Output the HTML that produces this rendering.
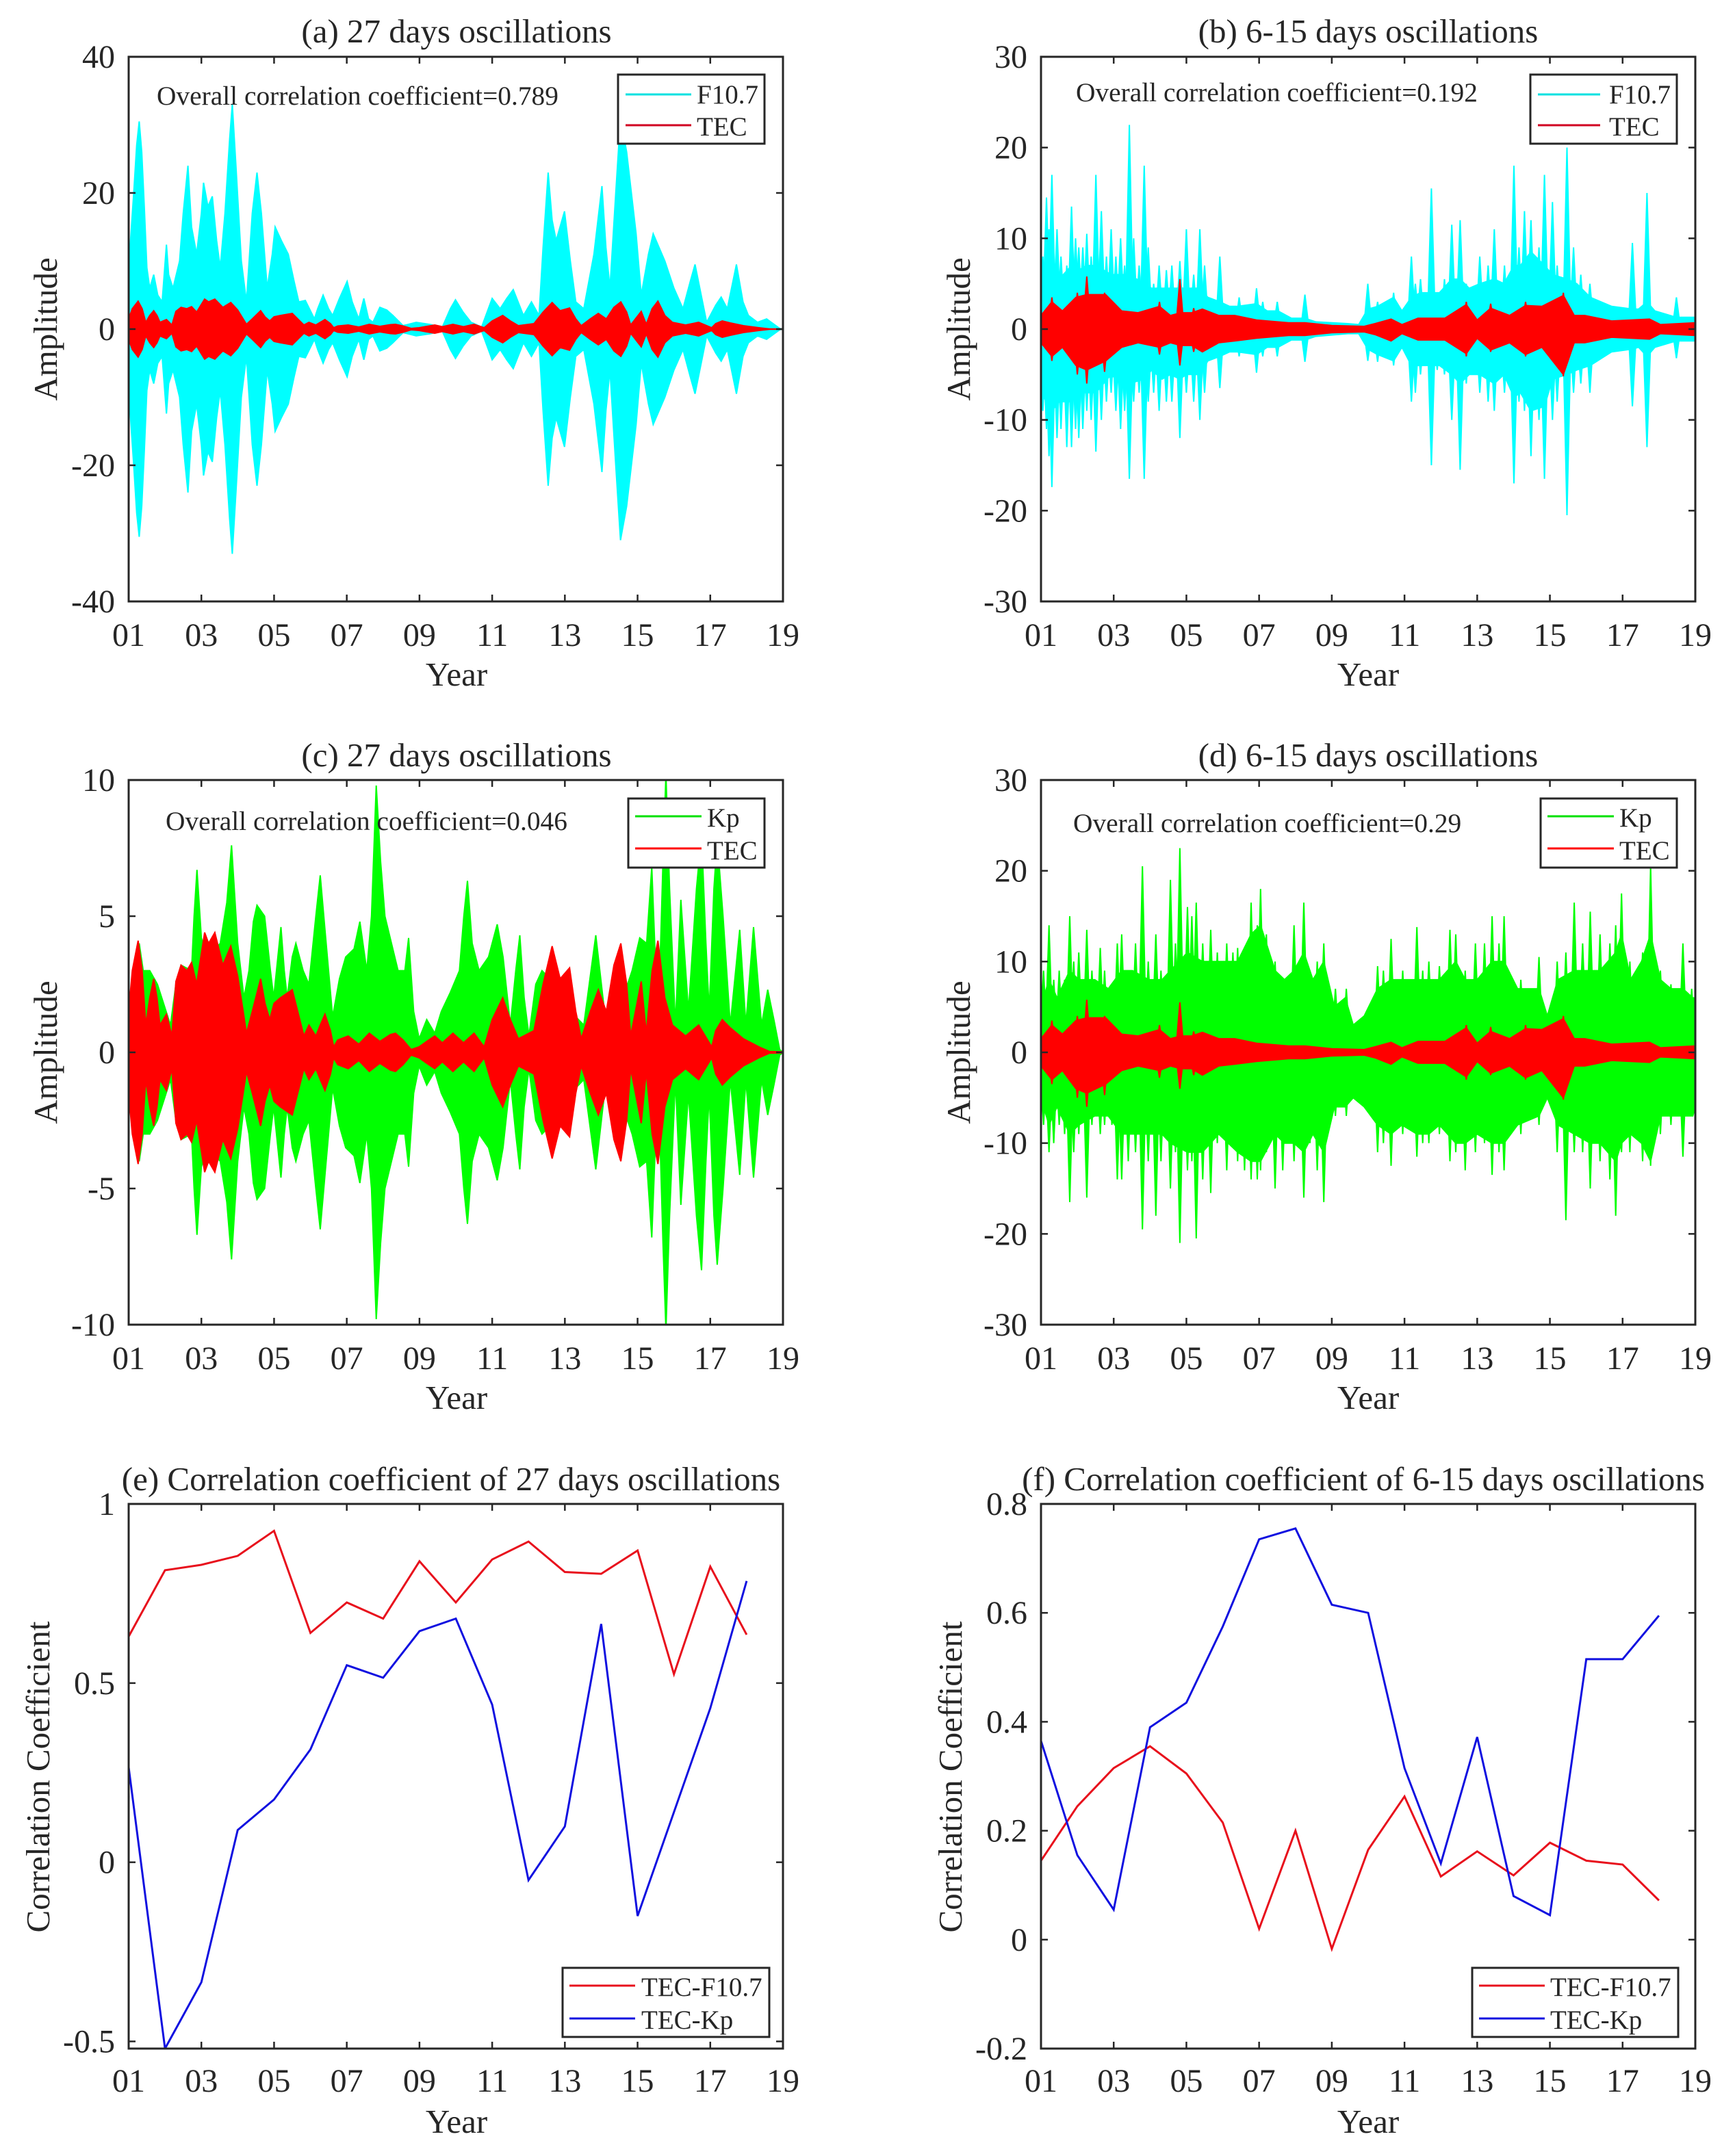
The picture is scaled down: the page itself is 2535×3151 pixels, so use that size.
<!DOCTYPE html>
<html lang="en">
<head>
<meta charset="utf-8">
<title>Oscillation amplitudes and correlation coefficients</title>
<style>
html,body{margin:0;padding:0;background:#fff;}
svg{display:block;}
text{font-family:"Liberation Serif",serif;fill:#262626;}
.title,.axis-label{font-size:49px;}
.tick{font-size:48px;}
.note{font-size:39.4px;}
.leg{font-size:39px;}
.frame{fill:none;stroke:#262626;stroke-width:3;}
.legbox{fill:#fff;stroke:#262626;stroke-width:3;}
</style>
</head>
<body>
<svg id="figure" xmlns="http://www.w3.org/2000/svg" width="2535" height="3151" viewBox="0 0 2535 3151">
<defs>
<clipPath id="clip-a"><rect x="188" y="83" width="956" height="796"/></clipPath>
<clipPath id="clip-b"><rect x="1521" y="83" width="956" height="796"/></clipPath>
<clipPath id="clip-c"><rect x="188" y="1140" width="956" height="796"/></clipPath>
<clipPath id="clip-d"><rect x="1521" y="1140" width="956" height="796"/></clipPath>
<clipPath id="clip-e"><rect x="188" y="2198" width="956" height="796"/></clipPath>
<clipPath id="clip-f"><rect x="1521" y="2198" width="956" height="796"/></clipPath>
</defs>

<!-- Panel a -->
<g>
<text class="title" x="667" y="62" text-anchor="middle">(a) 27 days oscillations</text>
<g id="marks-a" clip-path="url(#clip-a)"></g>
<rect class="frame" x="188" y="83" width="956" height="796"/>
<g id="ticks-a"></g>
<text class="note" x="229" y="153">Overall correlation coefficient=0.789</text>
<text class="axis-label" x="667" y="1002" text-anchor="middle">Year</text>
<text class="axis-label" transform="translate(83 481) rotate(-90)" text-anchor="middle">Amplitude</text>
<g>
<rect class="legbox" x="903" y="109" width="214" height="101"/>
<line x1="914" x2="1010" y1="138" y2="138" stroke="#00e0e0" stroke-width="3"/>
<text class="leg" x="1018" y="151">F10.7</text>
<line x1="914" x2="1010" y1="183" y2="183" stroke="#d00020" stroke-width="3"/>
<text class="leg" x="1018" y="198">TEC</text>
</g>
</g>

<!-- Panel b -->
<g>
<text class="title" x="1999" y="62" text-anchor="middle">(b) 6-15 days oscillations</text>
<g id="marks-b" clip-path="url(#clip-b)"></g>
<rect class="frame" x="1521" y="83" width="956" height="796"/>
<g id="ticks-b"></g>
<text class="note" x="1572" y="148">Overall correlation coefficient=0.192</text>
<text class="axis-label" x="1999" y="1002" text-anchor="middle">Year</text>
<text class="axis-label" transform="translate(1417 481) rotate(-90)" text-anchor="middle">Amplitude</text>
<g>
<rect class="legbox" x="2236" y="109" width="214" height="101"/>
<line x1="2247" x2="2338" y1="138" y2="138" stroke="#00e0e0" stroke-width="3"/>
<text class="leg" x="2351" y="151">F10.7</text>
<line x1="2247" x2="2338" y1="183" y2="183" stroke="#d00020" stroke-width="3"/>
<text class="leg" x="2351" y="198">TEC</text>
</g>
</g>

<!-- Panel c -->
<g>
<text class="title" x="667" y="1120" text-anchor="middle">(c) 27 days oscillations</text>
<g id="marks-c" clip-path="url(#clip-c)"></g>
<rect class="frame" x="188" y="1140" width="956" height="796"/>
<g id="ticks-c"></g>
<text class="note" x="242" y="1213">Overall correlation coefficient=0.046</text>
<text class="axis-label" x="667" y="2059" text-anchor="middle">Year</text>
<text class="axis-label" transform="translate(83 1538) rotate(-90)" text-anchor="middle">Amplitude</text>
<g>
<rect class="legbox" x="918" y="1167" width="199" height="101"/>
<line x1="928" x2="1025" y1="1193" y2="1193" stroke="#00e000" stroke-width="3"/>
<text class="leg" x="1033" y="1208">Kp</text>
<line x1="928" x2="1025" y1="1240" y2="1240" stroke="#ff0000" stroke-width="3"/>
<text class="leg" x="1033" y="1256">TEC</text>
</g>
</g>

<!-- Panel d -->
<g>
<text class="title" x="1999" y="1120" text-anchor="middle">(d) 6-15 days oscillations</text>
<g id="marks-d" clip-path="url(#clip-d)"></g>
<rect class="frame" x="1521" y="1140" width="956" height="796"/>
<g id="ticks-d"></g>
<text class="note" x="1568" y="1216">Overall correlation coefficient=0.29</text>
<text class="axis-label" x="1999" y="2059" text-anchor="middle">Year</text>
<text class="axis-label" transform="translate(1417 1538) rotate(-90)" text-anchor="middle">Amplitude</text>
<g>
<rect class="legbox" x="2251" y="1167" width="199" height="101"/>
<line x1="2261" x2="2358" y1="1193" y2="1193" stroke="#00e000" stroke-width="3"/>
<text class="leg" x="2366" y="1208">Kp</text>
<line x1="2261" x2="2358" y1="1240" y2="1240" stroke="#ff0000" stroke-width="3"/>
<text class="leg" x="2366" y="1256">TEC</text>
</g>
</g>

<!-- Panel e -->
<g>
<text class="title" x="659" y="2178" text-anchor="middle">(e) Correlation coefficient of 27 days oscillations</text>
<g id="marks-e" clip-path="url(#clip-e)"></g>
<rect class="frame" x="188" y="2198" width="956" height="796"/>
<g id="ticks-e"></g>
<text class="axis-label" x="667" y="3117" text-anchor="middle">Year</text>
<text class="axis-label" transform="translate(72 2597) rotate(-90)" text-anchor="middle">Correlation Coefficient</text>
<g>
<rect class="legbox" x="822" y="2876" width="302" height="101"/>
<line x1="832" x2="928" y1="2902" y2="2902" stroke="#e8101c" stroke-width="3"/>
<text class="leg" x="937" y="2917">TEC-F10.7</text>
<line x1="832" x2="928" y1="2950" y2="2950" stroke="#1010e0" stroke-width="3"/>
<text class="leg" x="937" y="2965">TEC-Kp</text>
</g>
</g>

<!-- Panel f -->
<g>
<text class="title" x="1992" y="2178" text-anchor="middle">(f) Correlation coefficient of 6-15 days oscillations</text>
<g id="marks-f" clip-path="url(#clip-f)"></g>
<rect class="frame" x="1521" y="2198" width="956" height="796"/>
<g id="ticks-f"></g>
<text class="axis-label" x="1999" y="3117" text-anchor="middle">Year</text>
<text class="axis-label" transform="translate(1405 2597) rotate(-90)" text-anchor="middle">Correlation Coefficient</text>
<g>
<rect class="legbox" x="2151" y="2876" width="301" height="101"/>
<line x1="2161" x2="2257" y1="2902" y2="2902" stroke="#e8101c" stroke-width="3"/>
<text class="leg" x="2265" y="2917">TEC-F10.7</text>
<line x1="2161" x2="2257" y1="2950" y2="2950" stroke="#1010e0" stroke-width="3"/>
<text class="leg" x="2265" y="2965">TEC-Kp</text>
</g>
</g>
</svg>

<script>
// ---- Shared axis data ----
const xTickValues = [1,3,5,7,9,11,13,15,17,19];
const xTickLabels = ['01','03','05','07','09','11','13','15','17','19'];
const yTicksA = [-40,-20,0,20,40];
const yTicksB = [-30,-20,-10,0,10,20,30];
const yTicksC = [-10,-5,0,5,10];
const yTicksD = [-30,-20,-10,0,10,20,30];
const yTicksE = [-0.5,0,0.5,1];
const yTicksF = [-0.2,0,0.2,0.4,0.6,0.8];

// ---- 27-day envelopes (year, half-amplitude) ----
const f107Time27 = [1,1.05,1.14,1.22,1.29,1.36,1.43,1.5,1.58,1.69,
1.8,1.92,2.04,2.1,2.22,2.4,2.5,2.63,2.73,2.87,
3.0,3.06,3.18,3.30,3.42,3.52,3.65,3.78,3.85,3.95,
4.1,4.24,4.4,4.53,4.65,4.81,4.95,5.03,5.2,5.39,
5.55,5.68,5.86,6.11,6.2,6.35,6.5,6.61,6.8,7.01,
7.15,7.33,7.47,7.6,7.72,7.91,8.1,8.27,8.55,8.91,
9.27,9.63,9.85,9.99,10.2,10.42,10.71,11,11.22,11.4,
11.58,11.86,12.08,12.29,12.4,12.54,12.65,12.76,12.99,13.15,
13.3,13.52,13.8,14.02,14.13,14.24,14.4,14.53,14.7,14.96,
15.1,15.3,15.43,15.75,16,16.25,16.45,16.58,16.75,16.9,
17.15,17.3,17.47,17.72,17.9,18.05,18.3,18.55,18.91,19];
const f107Amp27 = [6,13,20,27,30.5,26,18,9,6,8,
5,4,12.4,8,6,10,17,24,15,11,
17,21.5,18,19.5,13,9,17,28,33,24,
10,4,17,23,17,6,11,15,13,11,
7,4,4.2,1.5,3,5,3,2,4.5,7,
4,1.5,4.5,1.5,1,3.2,2.8,2,0.5,1,
0.7,0.3,3,4.3,2.5,1,0.3,4.5,3,4.5,
5.8,2,4,2,12,23,16,13,17.3,10,
4,3,11,21,12,6,20,31,26,14,
5,11,14,10,6,3,7,9.5,5,1,
3.5,4.7,3,9.5,4,2,1,1.5,0.1,0];

const tecTime27 = [1,1.1,1.26,1.37,1.47,1.58,1.69,1.78,1.86,2.04,
2.19,2.3,2.44,2.6,2.73,2.87,3.09,3.2,3.37,3.59,
3.81,4,4.15,4.24,4.4,4.63,4.75,4.88,5,5.17,
5.5,5.65,5.82,5.96,6.15,6.27,6.4,6.55,6.64,6.75,
7.04,7.33,7.62,7.91,8.2,8.34,8.55,8.77,8.99,9.2,
9.42,9.63,9.92,10.21,10.5,10.78,11,11.29,11.5,11.72,
12.15,12.4,12.65,12.87,13.13,13.3,13.45,13.7,13.92,14.14,
14.35,14.54,14.7,14.81,15.1,15.24,15.4,15.56,15.75,15.96,
16.32,16.68,17.04,17.15,17.33,17.55,17.91,18.34,18.63,19];
const tecAmp27 = [1.5,3,4.1,3,1,2,2.7,2,1,1.4,
0.6,2.6,3.2,3,3.3,2.5,4.4,4,4.4,3.2,
3.9,2.8,1.5,0.7,1.5,2.7,1.8,1.2,1.8,2,
2.3,1.5,0.6,1,0.6,1,1.4,0.8,0.2,0.45,
0.6,0.3,0.7,0.4,0.65,0.7,0.45,0.1,0.2,0.4,
0.6,0.35,0.7,0.35,0.7,0.2,1.2,2,1.2,0.5,
0.8,2.5,3.9,2.7,3.1,1.5,0.5,1.5,2.3,1.5,
3.2,4,2.5,0.6,2.6,0.7,3,4.1,2,1,
0.6,1,0.2,0.8,1.2,0.9,0.5,0.2,0.03,0.02];

const kpTime27 = [1,1.14,1.29,1.4,1.58,1.79,2.15,2.3,2.44,2.73,
2.8,2.88,3,3.16,3.52,3.7,3.83,4,4.17,4.31,
4.43,4.53,4.74,4.9,4.99,5.19,5.28,5.36,5.5,5.6,
5.8,5.96,6.15,6.27,6.4,6.61,6.8,6.97,7.2,7.36,
7.55,7.68,7.81,7.93,8.05,8.41,8.6,8.7,8.84,8.99,
9.2,9.42,9.6,9.85,10.1,10.22,10.32,10.45,10.64,10.9,
11.14,11.3,11.5,11.65,11.76,11.88,12.01,12.2,12.37,12.73,
13.16,13.52,13.7,13.85,14.09,14.6,14.85,15.06,15.25,15.39,
15.5,15.58,15.7,15.78,15.88,16.04,16.19,16.4,16.62,16.76,
16.88,16.97,17.1,17.19,17.35,17.55,17.81,17.98,18.19,18.41,
18.58,18.75,18.91,19];
const kpAmp27 = [1.5,3,4,3,3,2.5,1,2.5,3.2,3,
5,6.7,4.2,3.5,4,5.5,7.6,4,2,3,
4.8,5.4,5,3,2,4.6,3,2,3.5,4,
3,2.5,5,6.5,4.5,1.3,2.7,3.5,3.8,4.8,
3,5,9.8,7,5,3,3,4.2,1.5,0.5,
1.2,0.7,1.5,2.2,3,5,6.3,4,3,3.5,
4.7,3.5,1,3,4.3,2,0.6,2.5,3,2.5,
1.5,1,2.8,4.3,1.5,2,3,4.2,4,6.8,
3,1.5,7,10.2,6,1,5.6,1.5,6,8,
4,1.5,6,7.8,5,1,4.5,1,4.6,1,
2.3,1.2,0.1,0];

// ---- 6-15-day F10.7 body envelope and spikes ----
const f107Time615 = [1,1.15,1.3,1.5,1.84,2.04,2.26,2.51,2.93,3.19,3.43,3.84,4.04,4.33,4.56,4.82,5,5.37,5.59,5.92,6.19,6.41,6.93,7.22,7.52,7.89,8.26,8.56,9.44,9.74,9.99,10.26,10.7,10.93,11.19,11.44,11.74,11.96,12.3,12.53,12.78,13.07,13.47,13.74,14.01,14.19,14.48,14.85,15.07,15.47,15.74,16.11,16.7,17.27,17.44,17.67,17.89,18.48,18.93,19];
const f107Up615 = [6,7,8,5.5,7,6.5,7,7,6,6,6,5,4.5,4.5,4.5,4.5,4.5,4.5,3.5,3,2.5,2.5,2.8,2,2,1.2,1.2,0.8,0.6,0.5,2.2,2.5,3.5,2,3.5,4,4,4,5.5,5.5,4.5,5,5.5,5,7,7,8.5,7,6,5.5,5,3.5,2.5,2.2,2.2,3,2,1.3,1.3,1.3];
const f107Low615 = [7,8,9,8,8,7,7,7,5,6,6,5.5,4.5,5.5,5,5.5,5,5,3.5,3,2.5,2.5,2.8,2,2,1.2,1.2,0.8,0.5,0.5,2.2,2.8,3.5,2,4,4,4,4,5,6,5,5,6,5,7.5,7,9,8.5,5.5,5,4.5,4,2.5,2.2,2,3,2,1.3,1.3,1.3];
const f107SpikeTime615 = [1.05,1.15,1.22,1.3,1.44,1.55,1.71,1.84,1.95,2.04,
2.15,2.26,2.38,2.51,2.66,2.8,2.93,3.06,3.19,3.3,
3.43,3.55,3.7,3.84,3.95,4.1,4.25,4.45,4.6,4.82,
5,5.2,5.37,5.5,5.92,6.45,6.93,7.1,7.5,8.26,
9.99,10.26,10.7,11.19,11.3,11.44,11.74,11.9,12.1,12.3,
12.53,12.7,13.07,13.3,13.47,13.75,14.01,14.15,14.3,14.48,
14.7,14.85,15.07,15.2,15.47,15.65,15.85,16.1,17.27,17.67,
18.48];
const f107SpikeUp615 = [8,14.5,11,17,11,8,7,13.5,10,9,
9,10.5,8,17,13,8,11,8,10,7,
22.5,10,7,18,9,5,7,6.5,7,7.5,
11,6,11,7,8,3.5,4.5,3,3,3.8,
5,3,4,8,5,5.5,15.5,4,5.5,11.5,
12,5,8,7,11,7,18,9,13,12,
9,17,14,7,20,9,6,5,9.5,15,
3.5];
const f107SpikeLow615 = [9,11,14,17.4,12,11,13,13,11,12,
11,9,10,13.5,10,8,7,9,11,9,
16.5,8,7,16.5,8,7,9,8,8,12,
7,8,10,7,6.5,3,4.8,3,3,3.6,
3.5,3.6,4,8,7,5,15,4.5,5,10,
15.5,6,7,8,9,7,17,8,9,14,
10,16.5,10,8,20.5,7,6,7,8.5,13,
3.2];

// ---- 6-15-day Kp body envelope and spikes ----
const kpTime615 = [1,1.22,1.44,1.79,2.04,2.48,2.85,3.22,3.52,3.96,4.33,4.56,5.03,5.44,5.89,6.41,6.78,7.04,7.44,7.70,7.96,8.23,8.48,8.78,9.07,9.37,9.59,9.89,10.26,10.63,10.93,11.34,11.67,11.96,12.41,12.67,13,13.41,13.74,14.11,14.70,14.93,15.22,15.67,16.11,16.38,16.81,16.97,17.22,17.52,17.77,18.04,18.33,18.66,18.93,19];
const kpUp615 = [5,8,6,9,8,8,7,9,9,8,8,9,11,10,10,10,13,14,9,8,9,11,8,10,5,6,3,4,7,8,8,8,8,8,10,8,8,10,10,7,7,4,8,9,9,9,11,13,8,10,13,8,7,7,6,6];
const kpLow615 = [5,8,6,9,8,7,7,9,9,9,9,10,11,11,9,11,12,12,9,10,10,11,9,11,6,6,5,6,8,9,8,9,9,8,10,10,9,10,10,8,7,5,8,9,10,10,12,10,9,10,12,7,7,7,7,6];
const kpSpikeTime615 = [1.07,1.22,1.35,1.5,1.65,1.79,1.9,2.04,2.26,2.4,
2.63,2.75,2.95,3.1,3.22,3.4,3.6,3.79,3.95,4.16,
4.3,4.56,4.7,4.82,5.03,5.15,5.27,5.45,5.67,5.85,
6.11,6.28,6.41,6.6,6.78,6.95,7.04,7.2,7.44,7.65,
7.96,8.23,8.4,8.6,8.78,9.1,9.4,10.26,10.42,10.63,
10.95,11.34,11.5,11.67,11.96,12.25,12.41,12.67,12.95,13.2,
13.41,13.6,13.74,14.2,14.7,15.2,15.44,15.67,15.9,16.11,
16.38,16.65,16.81,16.97,17.2,17.55,17.77,18.04,18.33,18.66,
18.9];
const kpSpikeUp615 = [9,14,8,9,8,15,10,11,13.5,9,
11.5,9,7,12,13,9,12,20.5,10,13,
9,19,12,22.5,16,15,16.5,12,13.5,11,
12,11,11.5,10,16.5,14,18,13,10,8,
14,16.5,9,10,12,7,7,9.5,9,12.5,
9,13.8,9,10,9.5,13.5,13,9,12,12,
15,12,15,8,10.5,10,11,16.5,12,15.5,
13,12,14,17.5,10,11,20.5,9,7.5,12,
7];
const kpSpikeLow615 = [8,11,10,8,9,16.5,11,9,16,8,
9,8,8,14,14,12,11,19.5,12,18,
12,15,11,21,13,12,20.5,14,15.5,10,
13,10,12,13,14,14,13,11,15,13,
12,16,10,13,16.5,7,7,11,10,12.5,
9,11.5,10,10,9,12,11,13,11,10,
13.5,11,13,9,8,11,18.5,11,11,15,
12,14,18,11,11,12,12.5,9,8,11.5,
7];

// ---- 6-15-day TEC body envelope and spikes ----
const tecTime615 = [1,1.3,1.59,1.96,2.26,2.78,3.22,3.67,4.26,4.56,4.85,5.15,5.44,5.89,6.33,6.93,7.81,8.26,9,9.89,10.19,10.63,10.93,11.37,12.11,12.7,13,13.37,13.89,14.33,14.78,15.37,15.67,15.96,16.7,17.74,18.04,19];
const tecUp615 = [1.5,3,2,3.5,3.8,3.8,2,1.8,2.5,1.5,1.8,1.8,2.2,1.5,1.5,1,0.7,0.7,0.4,0.3,0.6,1.1,0.5,1.2,1.2,2.7,1,2.3,1.5,2.6,2.5,3.7,1.5,1.5,0.9,1.1,0.5,0.7];
const tecLow615 = [1.5,3,2,4,4.5,3.5,2,1.5,2,1.5,1.8,1.8,2.5,1.5,1.3,1,0.7,0.7,0.4,0.3,0.6,1.3,0.5,1.2,1.2,2.7,1,2.3,1.5,2.8,2,5,1.5,1.5,0.9,1.1,0.5,0.7];
const tecSpikeTime615 = [1.3,2.0,2.26,2.75,4.26,4.82,5.2,12.7,13.37,14.33,15.37];
const tecSpikeUp615 = [3.5,4,5.8,4,3,5.5,2.3,3,2.8,3,4];
const tecSpikeLow615 = [3.5,5,6,4.7,2.8,4,2.5,3,2.5,3,5.2];

// ---- Yearly correlation coefficients ----
const corrYears = [1,2,3,4,5,6,7,8,9,10,11,12,13,14,15,16,17,18];
const corrF107E = [0.63,0.815,0.83,0.855,0.925,0.64,0.725,0.68,0.84,0.725,0.845,0.895,0.81,0.805,0.87,0.525,0.825,0.635];
const corrKpE = [0.265,-0.52,-0.335,0.09,0.175,0.315,0.55,0.515,0.645,0.68,0.44,-0.05,0.10,0.665,-0.15,0.14,0.43,0.785];
const corrF107F = [0.145,0.245,0.315,0.355,0.305,0.215,0.02,0.20,-0.017,0.165,0.263,0.116,0.162,0.118,0.178,0.145,0.138,0.072];
const corrKpF = [0.365,0.155,0.055,0.39,0.435,0.575,0.735,0.755,0.615,0.60,0.315,0.14,0.372,0.08,0.045,0.515,0.515,0.595];

const SVGNS = 'http://www.w3.org/2000/svg';
const PLOT_W = 956, PLOT_H = 796;

function makeAxes(left, top, yMin, yMax) {
  return {
    left: left,
    top: top,
    x: function (t) { return left + (t - 1) / 18 * PLOT_W; },
    y: function (v) { return top + (yMax - v) / (yMax - yMin) * PLOT_H; }
  };
}

function drawEnvelope(groupId, axes, times, up, low, color, name) {
  const parts = [];
  times.forEach(function (t, i) {
    parts.push((i ? 'L' : 'M') + axes.x(t).toFixed(1) + ' ' + axes.y(up[i]).toFixed(1));
  });
  for (let i = times.length - 1; i >= 0; i--) {
    parts.push('L' + axes.x(times[i]).toFixed(1) + ' ' + axes.y(-low[i]).toFixed(1));
  }
  const el = document.createElementNS(SVGNS, 'path');
  el.setAttribute('d', parts.join('') + 'Z');
  el.setAttribute('fill', color);
  el.setAttribute('stroke', color);
  el.setAttribute('stroke-width', '2');
  
  
  document.getElementById(groupId).appendChild(el);
}

function drawSpikes(groupId, axes, times, up, low, halfWidth, color, name) {
  times.forEach(function (t, i) {
    const x = axes.x(t), y0 = axes.y(0);
    const d = 'M' + x.toFixed(1) + ' ' + axes.y(up[i]).toFixed(1) +
      'L' + (x + halfWidth).toFixed(1) + ' ' + y0.toFixed(1) +
      'L' + x.toFixed(1) + ' ' + axes.y(-low[i]).toFixed(1) +
      'L' + (x - halfWidth).toFixed(1) + ' ' + y0.toFixed(1) + 'Z';
    const el = document.createElementNS(SVGNS, 'path');
    el.setAttribute('d', d);
    el.setAttribute('fill', color);
    el.setAttribute('stroke', color);
    el.setAttribute('stroke-width', '2');
    
    
    document.getElementById(groupId).appendChild(el);
  });
}

function drawLine(groupId, axes, xs, ys, color, name) {
  const el = document.createElementNS(SVGNS, 'polyline');
  el.setAttribute('points', xs.map(function (x, i) {
    return axes.x(x).toFixed(1) + ',' + axes.y(ys[i]).toFixed(1);
  }).join(' '));
  el.setAttribute('fill', 'none');
  el.setAttribute('stroke', color);
  el.setAttribute('stroke-width', '3');
  
  
  document.getElementById(groupId).appendChild(el);
}

function addTickMark(group, x1, y1, x2, y2) {
  const el = document.createElementNS(SVGNS, 'line');
  el.setAttribute('x1', x1);
  el.setAttribute('y1', y1);
  el.setAttribute('x2', x2);
  el.setAttribute('y2', y2);
  el.setAttribute('stroke', '#262626');
  el.setAttribute('stroke-width', '2.5');
  
  
  group.appendChild(el);
}

function addTickLabel(group, x, y, anchor, label, name) {
  const el = document.createElementNS(SVGNS, 'text');
  el.setAttribute('class', 'tick');
  el.setAttribute('x', x);
  el.setAttribute('y', y);
  el.setAttribute('text-anchor', anchor);
  
  
  el.textContent = label;
  group.appendChild(el);
}

function drawTicks(groupId, axes, yTicks, xLabelBaselineOffset) {
  const group = document.getElementById(groupId);
  const bottom = axes.top + PLOT_H, right = axes.left + PLOT_W;
  xTickValues.forEach(function (v, i) {
    const x = axes.x(v);
    addTickMark(group, x, bottom, x, bottom - 10);
    addTickMark(group, x, axes.top, x, axes.top + 10);
    addTickLabel(group, x, bottom + xLabelBaselineOffset, 'middle', xTickLabels[i], 'x-tick-label');
  });
  yTicks.forEach(function (v) {
    const y = axes.y(v);
    addTickMark(group, axes.left, y, axes.left + 10, y);
    addTickMark(group, right, y, right - 10, y);
    addTickLabel(group, axes.left - 20, y + 16, 'end', String(v), 'y-tick-label');
  });
}

const axesA = makeAxes(188, 83, -40, 40);
const axesB = makeAxes(1521, 83, -30, 30);
const axesC = makeAxes(188, 1140, -10, 10);
const axesD = makeAxes(1521, 1140, -30, 30);
const axesE = makeAxes(188, 2198, -0.52, 1);
const axesF = makeAxes(1521, 2198, -0.2, 0.8);

drawEnvelope('marks-a', axesA, f107Time27, f107Amp27, f107Amp27, '#00ffff', 'f107-series');
drawEnvelope('marks-a', axesA, tecTime27, tecAmp27, tecAmp27, '#ff0000', 'tec-series');
drawTicks('ticks-a', axesA, yTicksA, 65);

drawEnvelope('marks-b', axesB, f107Time615, f107Up615, f107Low615, '#00ffff', 'f107-series');
drawSpikes('marks-b', axesB, f107SpikeTime615, f107SpikeUp615, f107SpikeLow615, 6, '#00ffff', 'f107-spike');
drawEnvelope('marks-b', axesB, tecTime615, tecUp615, tecLow615, '#ff0000', 'tec-series');
drawSpikes('marks-b', axesB, tecSpikeTime615, tecSpikeUp615, tecSpikeLow615, 6, '#ff0000', 'tec-spike');
drawTicks('ticks-b', axesB, yTicksB, 65);

drawEnvelope('marks-c', axesC, kpTime27, kpAmp27, kpAmp27, '#00ff00', 'kp-series');
drawEnvelope('marks-c', axesC, tecTime27, tecAmp27, tecAmp27, '#ff0000', 'tec-series');
drawTicks('ticks-c', axesC, yTicksC, 65);

drawEnvelope('marks-d', axesD, kpTime615, kpUp615, kpLow615, '#00ff00', 'kp-series');
drawSpikes('marks-d', axesD, kpSpikeTime615, kpSpikeUp615, kpSpikeLow615, 6, '#00ff00', 'kp-spike');
drawEnvelope('marks-d', axesD, tecTime615, tecUp615, tecLow615, '#ff0000', 'tec-series');
drawSpikes('marks-d', axesD, tecSpikeTime615, tecSpikeUp615, tecSpikeLow615, 6, '#ff0000', 'tec-spike');
drawTicks('ticks-d', axesD, yTicksD, 65);

drawLine('marks-e', axesE, corrYears, corrF107E, '#e8101c', 'tec-f107-line');
drawLine('marks-e', axesE, corrYears, corrKpE, '#1010e0', 'tec-kp-line');
drawTicks('ticks-e', axesE, yTicksE, 63);

drawLine('marks-f', axesF, corrYears, corrF107F, '#e8101c', 'tec-f107-line');
drawLine('marks-f', axesF, corrYears, corrKpF, '#1010e0', 'tec-kp-line');
drawTicks('ticks-f', axesF, yTicksF, 63);
</script>
</body>
</html>
